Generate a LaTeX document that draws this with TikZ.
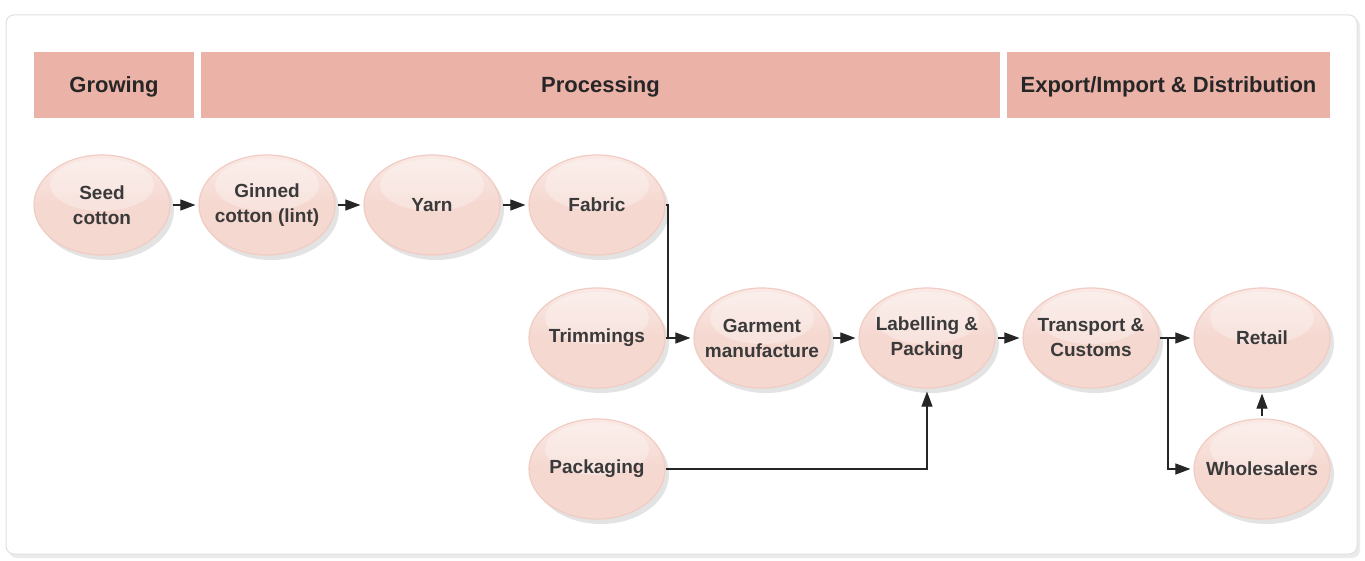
\documentclass[tikz,border=0pt]{standalone}
\usepackage{fontspec}
\setmainfont{Liberation Sans}
\usetikzlibrary{shapes.geometric,arrows.meta,shadows,calc}
\definecolor{hdr}{HTML}{EBB2A8}
\definecolor{elfill}{HTML}{F5D8D0}
\definecolor{elrim}{HTML}{F1CCC2}
\definecolor{eltop}{HTML}{FAE9E5}
\definecolor{txt}{HTML}{3A3A3A}
\definecolor{hdrtxt}{HTML}{262626}
\tikzset{
  hdrbox/.style={fill=hdr, draw=none, minimum height=66pt, inner sep=0pt,
    text height=20pt, text depth=4pt,
    font=\fontsize{22}{26}\selectfont\bfseries, text=hdrtxt},
  stage/.style={ellipse, minimum width=136pt, minimum height=100pt, inner xsep=-12pt, inner ysep=0pt,
    draw=elrim, line width=1.2pt, top color=eltop, bottom color=elfill, middle color=elfill,
    drop shadow={shadow xshift=4pt, shadow yshift=-5pt, opacity=0.18, fill=black!60},
    path picture={\fill[white, opacity=0.3] ($(path picture bounding box.center)+(0pt,20pt)$) ellipse [x radius=52pt, y radius=26pt];},
    align=center, text=txt, font=\fontsize{19}{25}\selectfont\bfseries},
  conn/.style={line width=1.1pt, draw=black!85},
  arr/.style={conn, -{Triangle[length=15pt,width=11pt]}},
}
\begin{document}
\begin{tikzpicture}[x=1pt,y=-1pt]
\useasboundingbox (0,0) rectangle (1365,561);
% panel
\fill[black!8, rounded corners=8pt] (9,18) rectangle (1360,558);
\draw[black!12, fill=white, rounded corners=8pt, line width=1pt] (6,15) rectangle (1357,554);
% headers
\node[hdrbox, minimum width=160pt] (hgrow) at (114,85) {Growing};
\node[hdrbox, minimum width=799pt] (hproc) at (600.5,85) {Processing};
\node[hdrbox, minimum width=323pt] (hexp) at (1168.5,85) {Export/Import \& Distribution};
% stages
\node[stage] (seed) at (102,205) {Seed\\cotton};
\node[stage] (ginned) at (267,205) {Ginned\\cotton (lint)};
\node[stage] (yarn) at (432,205) {Yarn};
\node[stage] (fabric) at (597,205) {Fabric};
\node[stage] (trim) at (597,338) {Trimmings};
\node[stage] (garment) at (762,338) {Garment\\manufacture};
\node[stage] (label) at (927,338) {Labelling \&\\Packing};
\node[stage] (transport) at (1091,338) {Transport \&\\Customs};
\node[stage] (retail) at (1262,338) {Retail};
\node[stage] (pack) at (597,469) {Packaging};
\node[stage] (whole) at (1262,469) {Wholesalers};
% junctions
\coordinate (j1) at (668,338);
\coordinate (j2) at (1168,338);
% connectors
\draw[arr, shorten <=2pt, shorten >=3pt] (seed.east) -- (ginned.west);
\draw[arr, shorten <=2pt, shorten >=3pt] (ginned.east) -- (yarn.west);
\draw[arr, shorten <=2pt, shorten >=3pt] (yarn.east) -- (fabric.west);
\draw[conn] (fabric.east) -| (j1);
\draw[conn] (trim.east) -- (j1);
\draw[arr, shorten >=3pt] (j1) -- (garment.west);
\draw[arr, shorten <=2pt, shorten >=3pt] (garment.east) -- (label.west);
\draw[arr, shorten <=2pt, shorten >=3pt] (label.east) -- (transport.west);
\draw[arr, shorten >=3pt] (pack.east) -| (label.south);
\draw[conn] (transport.east) -- (j2);
\draw[arr, shorten >=3pt] (j2) -- (retail.west);
\draw[arr, shorten >=3pt] (j2) |- (whole.west);
\draw[arr, shorten <=2pt, shorten >=5pt] (whole.north) -- (retail.south);
\end{tikzpicture}
\end{document}
